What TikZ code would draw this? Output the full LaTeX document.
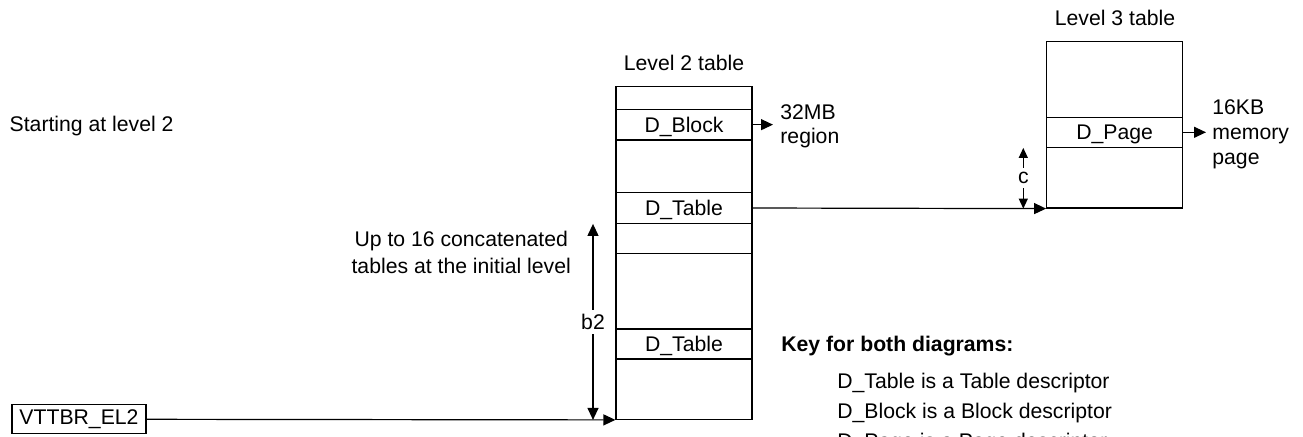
\documentclass[tikz,border=0pt]{standalone}
\usepackage{fontspec}
\setmainfont{Liberation Sans}
\usetikzlibrary{arrows.meta}
\newdimen\pxu \pxu=0.5pt
\begin{document}
\begin{tikzpicture}[x=0.5pt,y=-0.5pt,
  every node/.style={font=\fontsize{10.6}{12}\selectfont, inner sep=0pt},
  ln/.style={line width=0.6pt},
  tbl/.style={draw, ln, minimum width=136\pxu, inner sep=0pt},
  row/.style={tbl, text height=7.6pt, text depth=0pt},
  arr/.style={ln, -{Triangle[length=6pt,width=5.5pt]}},
  dimb/.style={ln, {Triangle[length=6pt,width=5.5pt]}-{Triangle[length=6pt,width=5.5pt]}},
  dimc/.style={ln, {Triangle[length=5pt,width=4.5pt]}-{Triangle[length=5pt,width=4.5pt]}},
  lbl/.style={fill=white, inner sep=2pt}]
\clip (0,0) rectangle (1303,436);
\useasboundingbox (0,0) rectangle (1303,436);

% Level 2 table
\node[tbl, minimum height=332.6\pxu] (l2) at (684,253) {};
\node[row, minimum height=30.7\pxu] (dblock) at (684,124.65) {D\_Block};
\node[row, minimum height=30.6\pxu] (dtab1) at (684,208) {D\_Table};
\coordinate (r1) at (684,253.3);
\draw[ln] (r1 -| l2.west) -- (r1 -| l2.east);
\node[row, minimum height=30\pxu] (dtab2) at (684,344) {D\_Table};
\node[anchor=base] (l2lbl) at (684,70.7) {Level 2 table};

% Level 3 table
\node[tbl, minimum height=166.3\pxu] (l3) at (1114.7,124.85) {};
\node[row, minimum height=30\pxu] (dpage) at (1114.7,132.3) {D\_Page};
\node[anchor=base] (l3lbl) at (1115,25.7) {Level 3 table};

% outputs
\coordinate (blk) at (773,124.65);
\draw[arr] (dblock.east) -- (blk);
\node[anchor=west, align=left] (blktxt) at (780,126) {32MB\\region};

\coordinate (pg) at (1206,132.3);
\draw[arr] (dpage.east) -- (pg);
\node[anchor=west, align=left, font=\fontsize{10.6}{12.5}\selectfont] (pgtxt) at (1212,134) {16KB\\memory\\page};

\draw[arr] (dtab1.east) -- (l3.south west);

% dimension c
\coordinate (cx) at (1023.3,0);
\draw[dimc] (dpage.south -| cx) -- node[lbl] (clbl) {c} (l3.south -| cx);

% dimension b2
\coordinate (bx) at (593,0);
\draw[dimb] (dtab1.south -| bx) -- node[lbl] (blbl) {b2} (l2.south -| bx);

\node[align=center, font=\fontsize{10.6}{13.3}\selectfont] (upto) at (461.2,252.5) {Up to 16 concatenated\\tables at the initial level};

\node[anchor=base west] (start) at (9.3,131.7) {Starting at level 2};

\node[draw, ln, minimum width=134\pxu, minimum height=29\pxu] (vttbr) at (79,419.3) {VTTBR\_EL2};
\draw[arr] (vttbr.east) -- (l2.south west);

% key
\node[anchor=base west, font=\bfseries\fontsize{10.6}{12}\selectfont] (key) at (781,351.7) {Key for both diagrams:};
\node[anchor=base west] (k1) at (837,388.3) {D\_Table is a Table descriptor};
\node[anchor=base west] (k2) at (837,418.3) {D\_Block is a Block descriptor};
\node[anchor=base west] (k3) at (837,448.3) {D\_Page is a Page descriptor};
\end{tikzpicture}
\end{document}
